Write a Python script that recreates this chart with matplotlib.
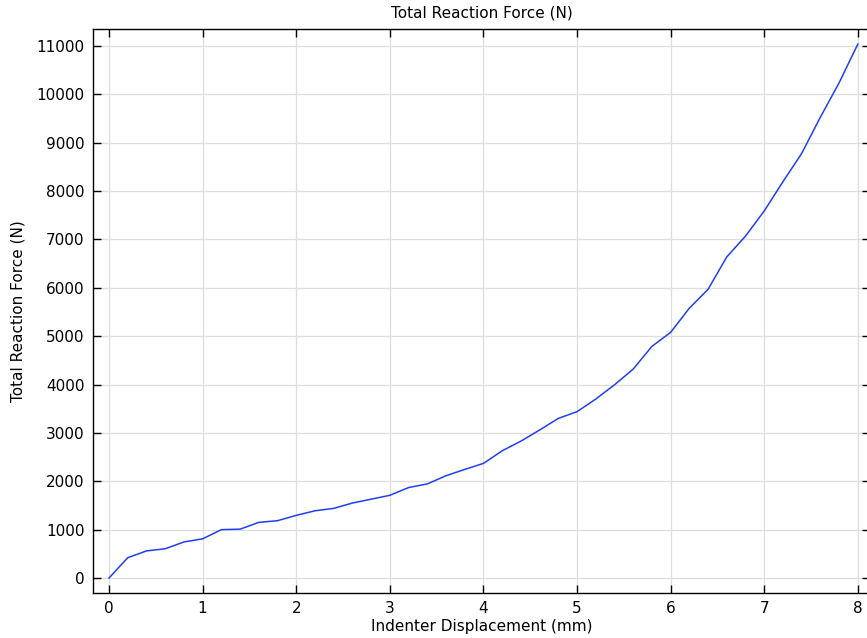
import matplotlib
matplotlib.use("Agg")
import matplotlib.pyplot as plt

plt.rcParams["font.family"] = ["DejaVu Sans"]

# ── data ──────────────────────────────────────────────────────────────────────
displacement_mm = [0.0, 0.2, 0.4, 0.6, 0.8, 1.0, 1.2, 1.4, 1.6, 1.8,
                   2.0, 2.2, 2.4, 2.6, 2.8, 3.0, 3.2, 3.4, 3.6, 3.8,
                   4.0, 4.2, 4.4, 4.6, 4.8, 5.0, 5.2, 5.4, 5.6, 5.8,
                   6.0, 6.2, 6.4, 6.6, 6.8, 7.0, 7.2, 7.4, 7.6, 7.8, 8.0]
reaction_force_N = [0, 420, 560, 605, 745, 810, 1000, 1010, 1150, 1185,
                    1295, 1390, 1440, 1550, 1630, 1710, 1870, 1945, 2115, 2245,
                    2370, 2630, 2830, 3060, 3300, 3440, 3700, 3995, 4320, 4790,
                    5080, 5580, 5970, 6640, 7070, 7590, 8195, 8780, 9530, 10240,
                    11040]

x_ticks = list(range(0, 9))
y_ticks = list(range(0, 11001, 1000))

W, H = 867, 638
fig = plt.figure(figsize=(W / 100, H / 100), dpi=100)
fig.patch.set_facecolor("white")

# axes box in pixels: left 93, right ~870 (cut by the image edge), top 29, bottom 593
ax = fig.add_axes([93 / W, 1 - 593 / H, (870 - 93) / W, (593 - 29) / H])

ax.plot(displacement_mm, reaction_force_N, color="#1f3ff5", linewidth=1.1)

ax.set_xlim(-0.171, 8.13)
ax.set_ylim(-310, 11352)
ax.set_xticks(x_ticks)
ax.set_yticks(y_ticks)

ax.grid(True, color="#dedede", linewidth=0.9)
ax.set_axisbelow(True)

ax.tick_params(direction="in", length=6, width=1.0, top=True, right=True,
               labelsize=11, color="black", pad=6)
for spine in ax.spines.values():
    spine.set_linewidth(1.0)

ax.set_title("Total Reaction Force (N)", fontsize=11, pad=8)
ax.set_xlabel("Indenter Displacement (mm)", fontsize=11, labelpad=2)
ax.set_ylabel("Total Reaction Force (N)", fontsize=11, labelpad=8)

fig.savefig("out.png", dpi=100)
